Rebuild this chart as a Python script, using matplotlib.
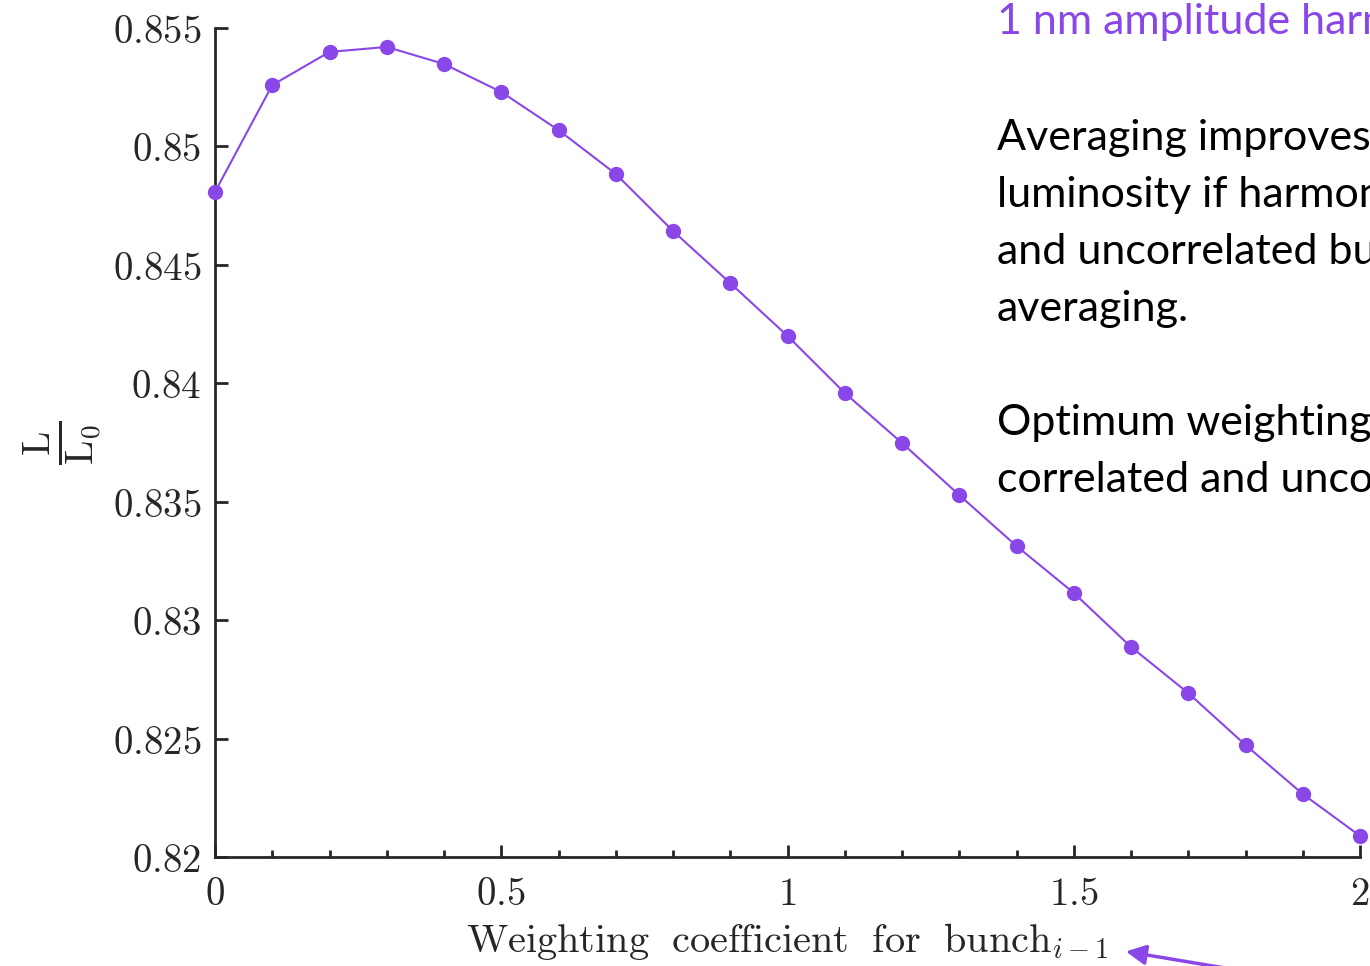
import matplotlib
matplotlib.use("Agg")
import matplotlib.pyplot as plt
from matplotlib.ticker import MultipleLocator

# weighting coefficient vs. normalised luminosity
weights = [0.0, 0.1, 0.2, 0.3, 0.4, 0.5, 0.6, 0.7, 0.8, 0.9, 1.0,
           1.1, 1.2, 1.3, 1.4, 1.5, 1.6, 1.7, 1.8, 1.9, 2.0]
lumi = [0.84808, 0.85259, 0.85399, 0.85420, 0.85348, 0.85230, 0.85069,
        0.84884, 0.84643, 0.84423, 0.84200, 0.83959, 0.83748, 0.83528,
        0.83313, 0.83115, 0.82887, 0.82692, 0.82473, 0.82266, 0.82089]

xticks = [0, 0.5, 1, 1.5, 2]
xtick_labels = ['0', '0.5', '1', '1.5', '2']
yticks = [0.82, 0.825, 0.83, 0.835, 0.84, 0.845, 0.85, 0.855]
ytick_labels = ['0.82', '0.825', '0.83', '0.835', '0.84', '0.845', '0.85', '0.855']

notes = ["Averaging improves", "luminosity if harmonic", "and uncorrelated bunch",
         "averaging.", "", "Optimum weighting", "correlated and uncorrelated"]

purple = '#8A47E8'
dark = '#262626'

plt.rcParams['mathtext.fontset'] = 'cm'

fig = plt.figure(figsize=(13.7, 9.66), dpi=100)
ax = fig.add_axes([215 / 1370, 1 - 857 / 966, (1360 - 215) / 1370, (857 - 28) / 966])

ax.plot(weights, lumi, color=purple, linewidth=1.5, marker='o', markersize=10,
        clip_on=False, zorder=3)

ax.set_xlim(0, 2)
ax.set_ylim(0.82, 0.855)
ax.set_xticks(xticks)
ax.set_xticklabels(['$' + t + '$' for t in xtick_labels])
ax.xaxis.set_minor_locator(MultipleLocator(0.1))
ax.set_yticks(yticks)
ax.set_yticklabels(['$' + t + '$' for t in ytick_labels])

for s in ['top', 'right']:
    ax.spines[s].set_visible(False)
for s in ['left', 'bottom']:
    ax.spines[s].set_linewidth(2)
    ax.spines[s].set_color(dark)

ax.tick_params(which='major', direction='in', length=9, width=2, color=dark,
               labelsize=28, labelcolor=dark)
ax.tick_params(axis='x', which='major', pad=13)
ax.tick_params(axis='y', which='major', pad=10)
ax.tick_params(which='minor', direction='in', length=5, width=2, color=dark)

ax.set_xlabel(r'$\mathrm{Weighting\ \ coefficient\ \ for\ \ bunch}_{i-1}$',
              fontsize=29, color=dark, labelpad=6)
ax.set_ylabel(r'$\frac{\mathrm{L}}{\mathrm{L_0}}$', fontsize=40, color=dark, labelpad=6)

# slide text on the right (cut at the figure edge, as on the slide)
fig.text(997 / 1370, 1 - 22 / 966, "1 nm amplitude harmonic", color=purple,
         fontsize=31, family='Lato', va='center', ha='left')
for i, line in enumerate(notes):
    fig.text(997 / 1370, 1 - (138 + 57 * i) / 966, line, color='black',
             fontsize=31, family='Lato', va='center', ha='left')

# arrow pointing at the x label
ax.annotate('', xy=(1123 / 1370, 1 - 951 / 966), xycoords='figure fraction',
            xytext=(1225 / 1370, 1 - 968 / 966), textcoords='figure fraction',
            arrowprops=dict(arrowstyle='-|>', color=purple, lw=2.5,
                            mutation_scale=30),
            annotation_clip=False)

fig.savefig('out.png', dpi=100)
